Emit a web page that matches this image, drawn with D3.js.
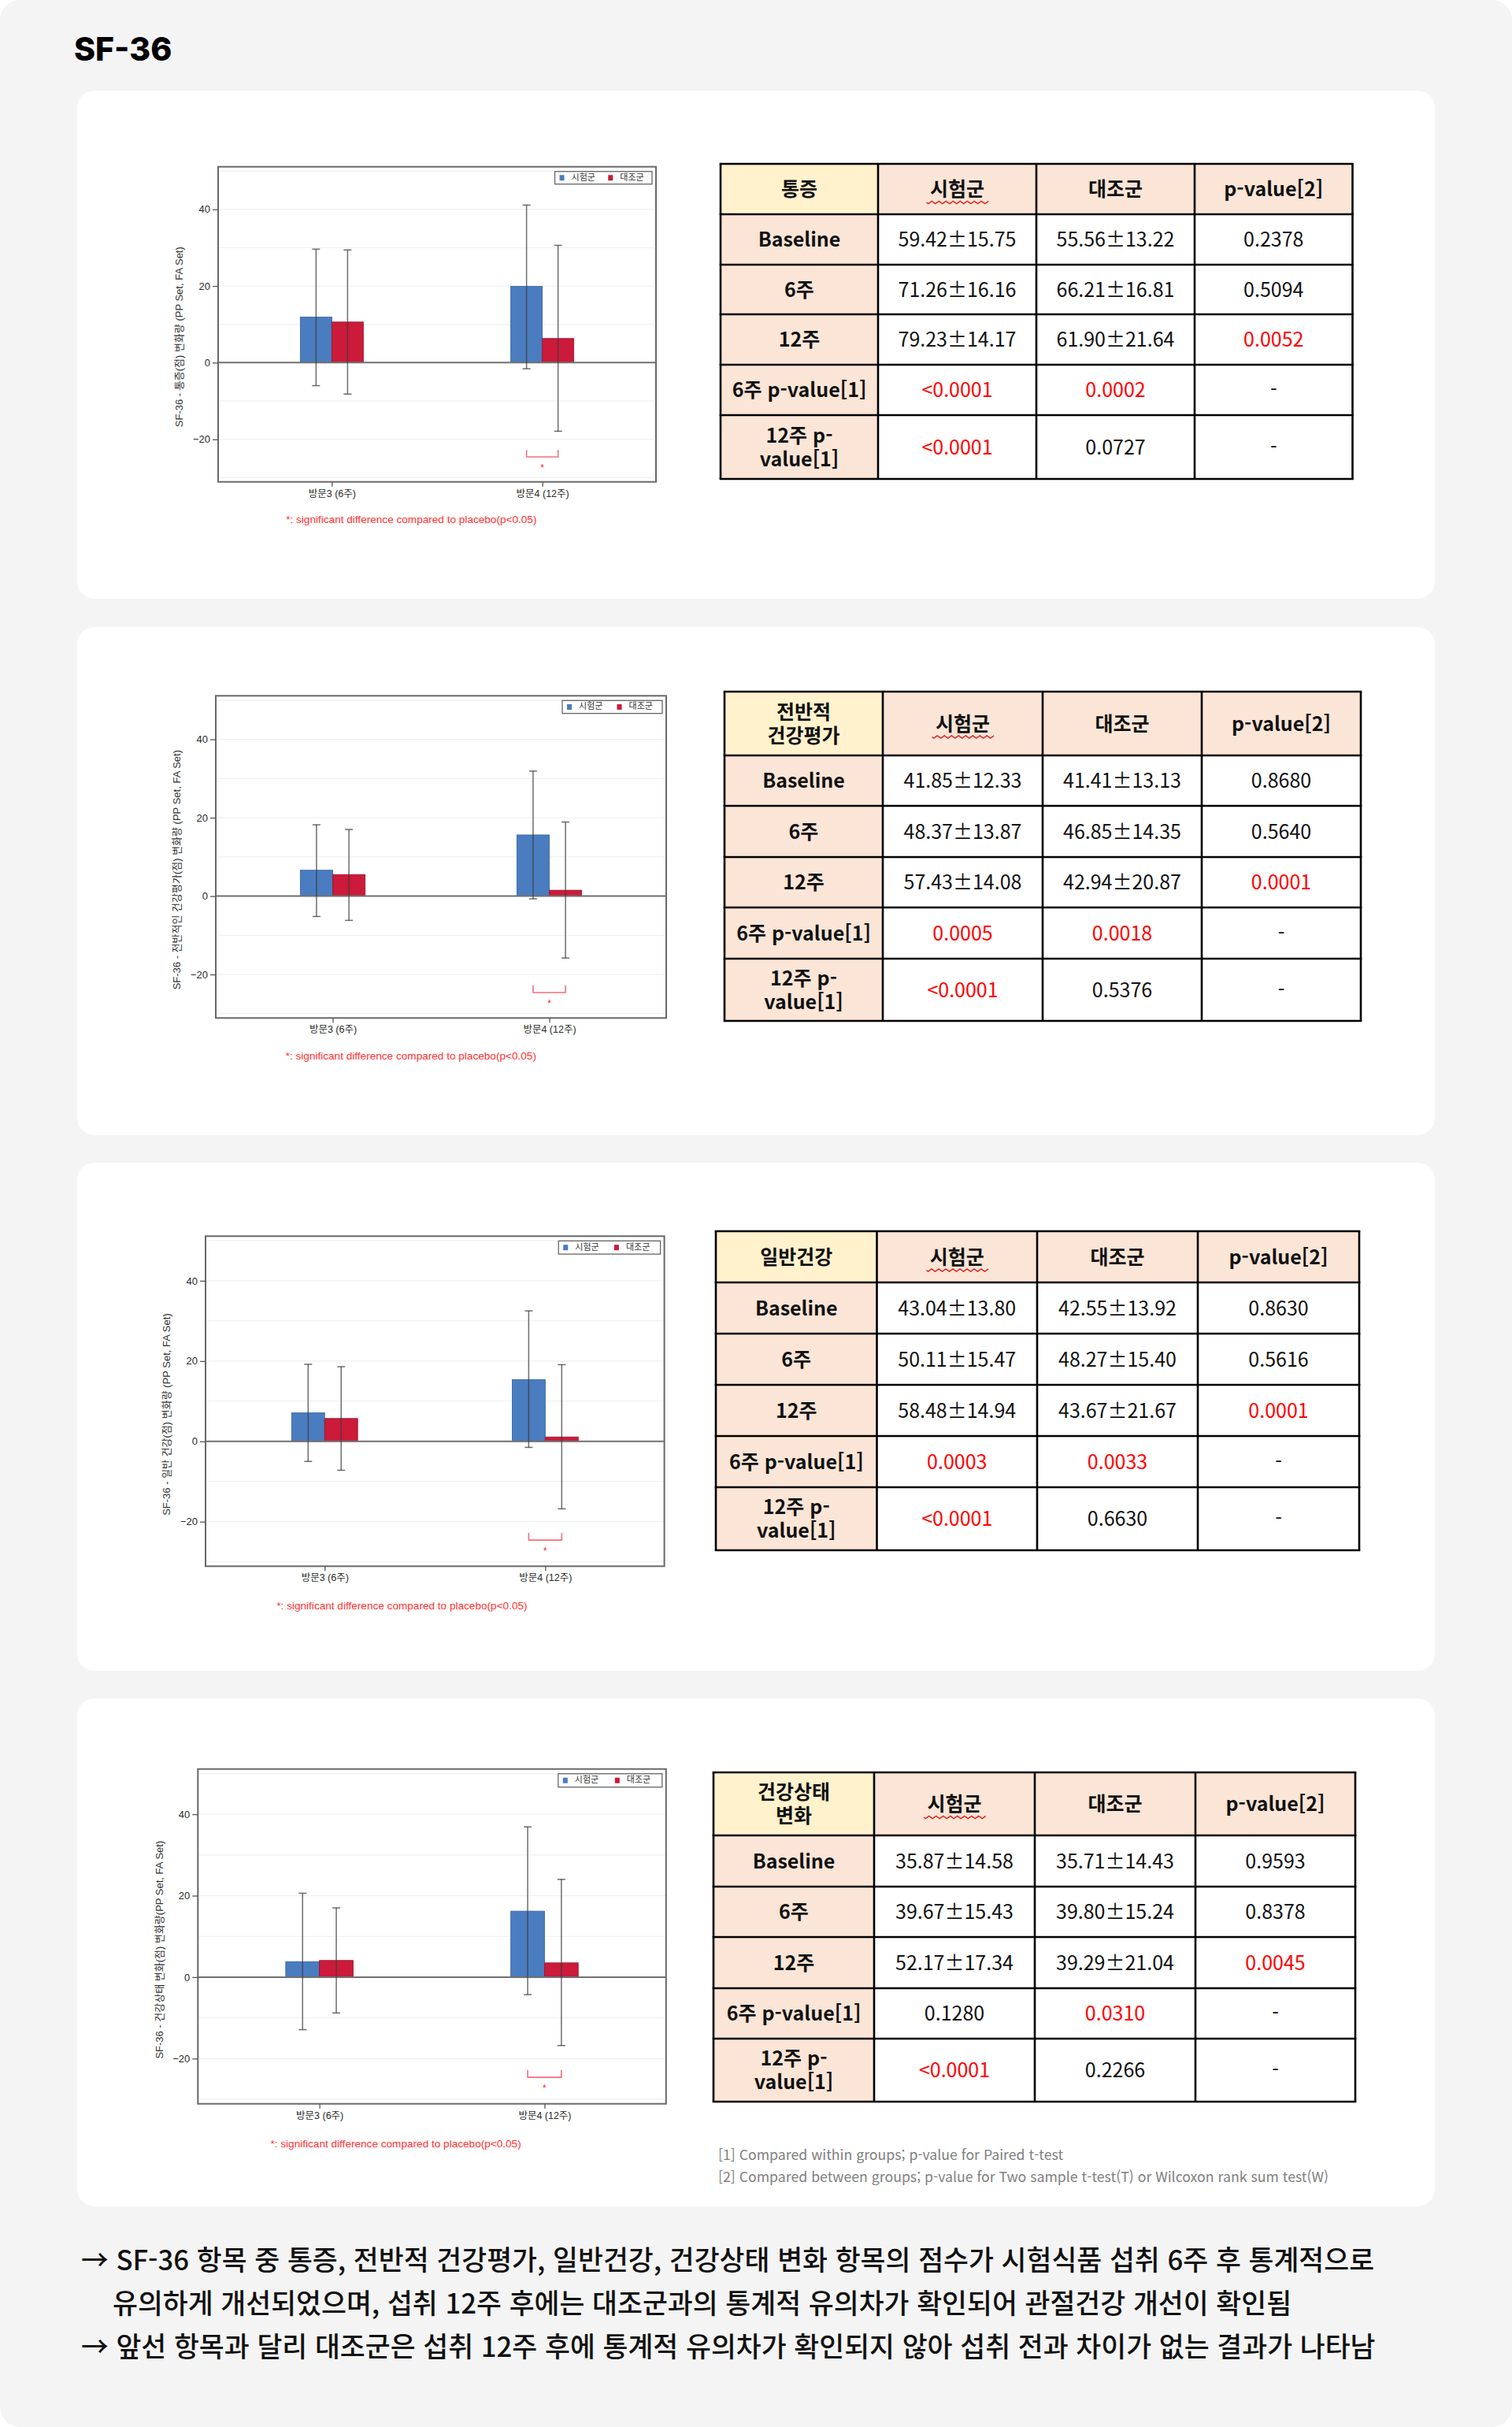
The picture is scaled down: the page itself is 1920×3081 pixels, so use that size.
<!DOCTYPE html>
<html lang="ko">
<head>
<meta charset="utf-8">
<script src="https://cdn.jsdelivr.net/npm/d3@7"></script>
<style>
  body { margin: 0; background: #fff; }
  svg { display: block; }
</style>
</head>
<body>
<div id="page"></div>
<script>
// ---------- data ----------
const visits = ['방문3 (6주)', '방문4 (12주)'];
const groupNames = ['시험군', '대조군'];
const yAxisTitles = [
  'SF-36 - 통증(점) 변화량 (PP Set, FA Set)',
  'SF-36 - 전반적인 건강평가(점) 변화량 (PP Set, FA Set)',
  'SF-36 - 일반 건강(점) 변화량 (PP Set, FA Set)',
  'SF-36 - 건강상태 변화(점) 변화량(PP Set, FA Set)'
];
const yTicks = [-20, 0, 20, 40];
const gridTicks = [-30, -20, -10, 10, 20, 30, 40, 50];
const yDomain = [-31.1, 51.1];

// mean change, error bar low / high, per chart: [6주, 12주]
const testMeans = [[11.9, 19.9], [6.6, 15.6], [7.1, 15.4], [3.8, 16.2]];
const testLow = [[-6.0, -1.6], [-5.2, -0.7], [-5.0, -1.5], [-12.9, -4.3]];
const testHigh = [[29.6, 41.1], [18.2, 31.9], [19.2, 32.5], [20.6, 36.9]];
const ctrlMeans = [[10.6, 6.3], [5.5, 1.5], [5.7, 1.1], [4.1, 3.5]];
const ctrlLow = [[-8.2, -17.9], [-6.2, -15.8], [-7.2, -16.8], [-8.8, -16.8]];
const ctrlHigh = [[29.4, 30.6], [17.0, 18.9], [18.6, 19.1], [17.0, 24.0]];
const sigVisits = ['방문4 (12주)'];
const bracketLevels = [-22.8, -24.6];
const starLevel = -27;
const sigNote = '*: significant difference compared to placebo(p<0.05)';

const tableTitles = [['통증'], ['전반적', '건강평가'], ['일반건강'], ['건강상태', '변화']];
const tableColumns = ['시험군', '대조군', 'p-value[2]'];
const tableRowLabels = [['Baseline'], ['6주'], ['12주'], ['6주 p-value[1]'], ['12주 p-', 'value[1]']];
const testCells = [
  ['59.42±15.75', '71.26±16.16', '79.23±14.17', '<0.0001', '<0.0001'],
  ['41.85±12.33', '48.37±13.87', '57.43±14.08', '0.0005', '<0.0001'],
  ['43.04±13.80', '50.11±15.47', '58.48±14.94', '0.0003', '<0.0001'],
  ['35.87±14.58', '39.67±15.43', '52.17±17.34', '0.1280', '<0.0001']
];
const controlCells = [
  ['55.56±13.22', '66.21±16.81', '61.90±21.64', '0.0002', '0.0727'],
  ['41.41±13.13', '46.85±14.35', '42.94±20.87', '0.0018', '0.5376'],
  ['42.55±13.92', '48.27±15.40', '43.67±21.67', '0.0033', '0.6630'],
  ['35.71±14.43', '39.80±15.24', '39.29±21.04', '0.0310', '0.2266']
];
const betweenCells = [
  ['0.2378', '0.5094', '0.0052', '-', '-'],
  ['0.8680', '0.5640', '0.0001', '-', '-'],
  ['0.8630', '0.5616', '0.0001', '-', '-'],
  ['0.9593', '0.8378', '0.0045', '-', '-']
];
const tableNotes = [
  '[1] Compared within groups; p-value for Paired t-test',
  '[2] Compared between groups; p-value for Two sample t-test(T) or Wilcoxon rank sum test(W)'
];
const summaryLines = [
  '→ SF-36 항목 중 통증, 전반적 건강평가, 일반건강, 건강상태 변화 항목의 점수가 시험식품 섭취 6주 후 통계적으로',
  '유의하게 개선되었으며, 섭취 12주 후에는 대조군과의 통계적 유의차가 확인되어 관절건강 개선이 확인됨',
  '→ 앞선 항목과 달리 대조군은 섭취 12주 후에 통계적 유의차가 확인되지 않아 섭취 전과 차이가 없는 결과가 나타남'
];

// ---------- layout ----------
const W = 1920, H = 3081;
const panelTops = [115, 796, 1476, 2156];
const panelH = 645;
const chartBoxes = [
  { x: 277, y: 211.7, w: 556, h: 400 },
  { x: 274, y: 883.3, w: 572, h: 409 },
  { x: 261, y: 1569.3, w: 582.6, h: 419 },
  { x: 251.3, y: 2245.7, w: 594.5, h: 425 }
];
const tableBoxes = [
  { xs: [915, 1115, 1316, 1517, 1717.5], ys: [208, 272, 336, 399, 463, 527, 608] },
  { xs: [920, 1121, 1324, 1526, 1728], ys: [878, 959, 1023, 1088, 1152, 1217, 1296] },
  { xs: [909, 1113.5, 1317, 1521, 1726], ys: [1563, 1628, 1693, 1758, 1823, 1888, 1968] },
  { xs: [906, 1110, 1314, 1518, 1721], ys: [2250, 2330, 2395, 2459, 2524, 2588, 2668] }
];
const colors = { test: '#4a7cc0', ctrl: '#cc1a3a', testEdge: '#35609c', ctrlEdge: '#96142c' };
const chartFont = '"Liberation Sans", "Noto Sans CJK KR", sans-serif';
const tableFont = '"Noto Sans CJK KR", sans-serif';

const svg = d3.select('#page').append('svg')
  .attr('width', W)
  .attr('height', H);

// page background + panels
svg.append('rect')
  .attr('width', W).attr('height', H)
  .attr('rx', 26).attr('fill', '#f4f4f4');

svg.append('text')
  .attr('x', 94).attr('y', 77)
  .attr('font-family', 'Inter, "Noto Sans", sans-serif')
  .attr('font-weight', 800)
  .attr('font-size', 41)
  .attr('fill', '#000')
  .text('SF-36');

svg.selectAll('.panel')
  .data(panelTops)
  .join('rect')
  .attr('class', 'panel')
  .attr('x', 98).attr('y', d => d)
  .attr('width', 1724).attr('height', panelH)
  .attr('rx', 22)
  .attr('fill', '#fff');

// ---------- charts ----------
function drawChart(i) {
  const b = chartBoxes[i];
  const g = svg.append('g').attr('transform', `translate(${b.x},${b.y})`);

  const x = d3.scalePoint().domain(visits).range([0, b.w]).padding(0.54);
  const y = d3.scaleLinear().domain(yDomain).range([b.h, 0]);
  const barW = b.w * 0.072;
  const sub = d3.scaleBand().domain(groupNames).range([-barW, barW]);

  const rows = visits.flatMap((v, k) => [
    { visit: v, group: groupNames[0], mean: testMeans[i][k], lo: testLow[i][k], hi: testHigh[i][k], fill: colors.test, edge: colors.testEdge },
    { visit: v, group: groupNames[1], mean: ctrlMeans[i][k], lo: ctrlLow[i][k], hi: ctrlHigh[i][k], fill: colors.ctrl, edge: colors.ctrlEdge }
  ]);

  // faint grid
  g.selectAll('.grid')
    .data(gridTicks.filter(t => y(t) > 2 && y(t) < b.h - 2))
    .join('line')
    .attr('x1', 0).attr('x2', b.w)
    .attr('y1', d => y(d)).attr('y2', d => y(d))
    .attr('stroke', '#ededed').attr('stroke-width', 1);

  // bars
  g.selectAll('.bar')
    .data(rows)
    .join('rect')
    .attr('x', d => x(d.visit) + sub(d.group))
    .attr('width', sub.bandwidth())
    .attr('y', d => y(Math.max(0, d.mean)))
    .attr('height', d => Math.abs(y(d.mean) - y(0)))
    .attr('fill', d => d.fill)
    .attr('stroke', d => d.edge)
    .attr('stroke-width', 0.8);

  // zero reference line
  g.append('line')
    .attr('x1', 0).attr('x2', b.w)
    .attr('y1', y(0)).attr('y2', y(0))
    .attr('stroke', '#707070').attr('stroke-width', 2);

  // error bars
  const capW = 5;
  const err = g.selectAll('.err')
    .data(rows)
    .join('g')
    .attr('transform', d => `translate(${x(d.visit) + sub(d.group) + sub.bandwidth() / 2},0)`)
    .attr('stroke', '#3c3c3c')
    .attr('stroke-opacity', 0.75)
    .attr('stroke-width', 1.5);
  err.append('line').attr('y1', d => y(d.lo)).attr('y2', d => y(d.hi));
  err.append('line').attr('x1', -capW).attr('x2', capW).attr('y1', d => y(d.hi)).attr('y2', d => y(d.hi));
  err.append('line').attr('x1', -capW).attr('x2', capW).attr('y1', d => y(d.lo)).attr('y2', d => y(d.lo));

  // significance bracket + star
  const sig = g.selectAll('.sig')
    .data(sigVisits)
    .join('g');
  sig.append('path')
    .attr('d', v => {
      const x0 = x(v) + sub(groupNames[0]) + sub.bandwidth() / 2;
      const x1 = x(v) + sub(groupNames[1]) + sub.bandwidth() / 2;
      return `M${x0},${y(bracketLevels[0])}V${y(bracketLevels[1])}H${x1}V${y(bracketLevels[0])}`;
    })
    .attr('fill', 'none')
    .attr('stroke', '#f2707a')
    .attr('stroke-width', 1.6);
  sig.append('text')
    .attr('x', v => x(v))
    .attr('y', y(starLevel) + 6)
    .attr('text-anchor', 'middle')
    .attr('font-family', chartFont)
    .attr('font-size', 12)
    .attr('fill', '#ff2020')
    .text('*');

  // frame
  g.append('rect')
    .attr('width', b.w).attr('height', b.h)
    .attr('fill', 'none')
    .attr('stroke', '#686868').attr('stroke-width', 2);

  // axes
  const yAxis = g.append('g')
    .call(d3.axisLeft(y).tickValues(yTicks).tickSize(7).tickPadding(3));
  const xAxis = g.append('g')
    .attr('transform', `translate(0,${b.h})`)
    .call(d3.axisBottom(x).tickSize(6).tickPadding(4));
  [yAxis, xAxis].forEach(a => {
    a.select('.domain').remove();
    a.selectAll('line').attr('stroke', '#555').attr('stroke-width', 1.3);
    a.selectAll('text').attr('fill', '#2a2a2a').attr('font-family', chartFont);
  });
  yAxis.selectAll('text').attr('font-size', 13);
  xAxis.selectAll('text').attr('font-size', 12.5);

  // y title
  g.append('text')
    .attr('transform', `translate(-48,${b.h * 0.54}) rotate(-90)`)
    .attr('text-anchor', 'middle')
    .attr('dominant-baseline', 'middle')
    .attr('font-family', chartFont)
    .attr('font-size', 13)
    .attr('fill', '#333')
    .text(yAxisTitles[i]);

  // legend
  const lw = b.w * 0.222, lh = b.h * 0.04;
  const lg = g.append('g').attr('transform', `translate(${b.w - 5 - lw},6)`);
  lg.append('rect')
    .attr('width', lw).attr('height', lh)
    .attr('fill', '#fff')
    .attr('stroke', '#666').attr('stroke-width', 1.3);
  const item = lg.selectAll('.item')
    .data(groupNames)
    .join('g')
    .attr('transform', (d, k) => `translate(${6 + k * lw * 0.5},0)`);
  item.append('rect')
    .attr('y', lh / 2 - 3.5)
    .attr('width', 6).attr('height', 7)
    .attr('fill', (d, k) => k === 0 ? colors.test : colors.ctrl);
  item.append('text')
    .attr('x', 15).attr('y', lh / 2)
    .attr('dominant-baseline', 'middle')
    .attr('font-family', chartFont)
    .attr('font-size', 11)
    .attr('fill', '#333')
    .text(d => d);

  // footnote
  g.append('text')
    .attr('x', b.w * 0.155)
    .attr('y', b.h + b.h * 0.121)
    .attr('dominant-baseline', 'middle')
    .attr('font-family', chartFont)
    .attr('font-size', 13.6)
    .attr('fill', '#ff3030')
    .text(sigNote);
}

// ---------- tables ----------
function isSignificant(s) {
  if (s === '-' || s.includes('±')) return false;
  if (s.startsWith('<')) return true;
  return +s < 0.05;
}

function drawTable(i) {
  const t = tableBoxes[i];
  const g = svg.append('g');

  const cells = [];
  cells.push({ r: 0, c: 0, lines: tableTitles[i], bold: true, fill: '#fff2cc' });
  tableColumns.forEach((h, c) => cells.push({ r: 0, c: c + 1, lines: [h], bold: true, fill: '#fbe5d6' }));
  tableRowLabels.forEach((lab, r) => {
    cells.push({ r: r + 1, c: 0, lines: lab, bold: true, fill: '#fbe5d6' });
    [testCells[i][r], controlCells[i][r], betweenCells[i][r]].forEach((v, c) =>
      cells.push({ r: r + 1, c: c + 1, lines: [v], bold: false, fill: '#fff', red: isSignificant(v) }));
  });

  g.selectAll('.cell')
    .data(cells)
    .join('rect')
    .attr('x', d => t.xs[d.c]).attr('y', d => t.ys[d.r])
    .attr('width', d => t.xs[d.c + 1] - t.xs[d.c])
    .attr('height', d => t.ys[d.r + 1] - t.ys[d.r])
    .attr('fill', d => d.fill);

  const lineGap = 30;
  g.selectAll('.ctext')
    .data(cells)
    .join('text')
    .attr('text-anchor', 'middle')
    .attr('font-family', tableFont)
    .attr('font-size', 25)
    .attr('font-weight', d => d.bold ? 700 : 400)
    .attr('fill', d => d.red ? '#ff0000' : '#111')
    .each(function (d) {
      const cx = (t.xs[d.c] + t.xs[d.c + 1]) / 2;
      const cy = (t.ys[d.r] + t.ys[d.r + 1]) / 2;
      const y0 = cy - (d.lines.length - 1) * lineGap / 2;
      d3.select(this).selectAll('tspan')
        .data(d.lines)
        .join('tspan')
        .attr('x', cx)
        .attr('y', (l, k) => y0 + k * lineGap)
        .attr('dy', '0.36em')
        .text(l => l);
    });

  // spell-check style wavy underline under 시험군
  const ux = (t.xs[1] + t.xs[2]) / 2, uy = (t.ys[0] + t.ys[1]) / 2 + 17;
  const wave = d3.path();
  wave.moveTo(ux - 39, uy);
  for (let k = 0; k < 18; k++) {
    wave.lineTo(ux - 39 + k * 4.5 + 2.25, uy + (k % 2 ? -1.6 : 1.6));
  }
  g.append('path')
    .attr('d', wave.toString())
    .attr('fill', 'none')
    .attr('stroke', '#e02020')
    .attr('stroke-width', 1.3);

  // grid lines
  g.selectAll('.vl')
    .data(t.xs)
    .join('line')
    .attr('x1', d => d).attr('x2', d => d)
    .attr('y1', t.ys[0]).attr('y2', t.ys[t.ys.length - 1])
    .attr('stroke', '#000').attr('stroke-width', 2.6);
  g.selectAll('.hl')
    .data(t.ys)
    .join('line')
    .attr('x1', t.xs[0] - 1.3).attr('x2', t.xs[t.xs.length - 1] + 1.3)
    .attr('y1', d => d).attr('y2', d => d)
    .attr('stroke', '#000').attr('stroke-width', 2.6);
}

d3.range(chartBoxes.length).forEach(i => { drawChart(i); drawTable(i); });

// table footnotes in the last panel
svg.selectAll('.tnote')
  .data(tableNotes)
  .join('text')
  .attr('x', 912)
  .attr('y', (d, k) => 2737 + k * 28)
  .attr('dominant-baseline', 'middle')
  .attr('font-family', tableFont)
  .attr('font-size', 17.7)
  .attr('fill', '#808080')
  .text(d => d);

// summary
svg.selectAll('.summary')
  .data(summaryLines)
  .join('text')
  .attr('x', (d, k) => k === 1 ? 143 : 103)
  .attr('y', (d, k) => 2873 + k * 55)
  .attr('dominant-baseline', 'middle')
  .attr('font-family', tableFont)
  .attr('font-size', 34.7)
  .attr('font-weight', 500)
  .attr('fill', '#111')
  .text(d => d);
</script>
</body>
</html>
